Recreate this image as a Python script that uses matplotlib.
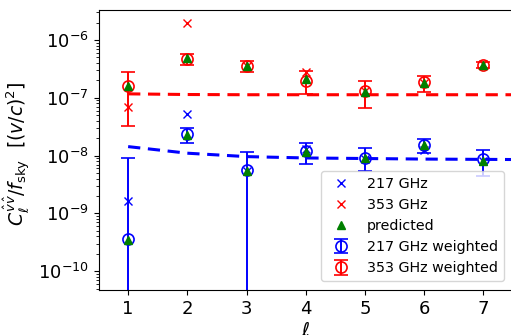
import numpy as np
import matplotlib
matplotlib.use("Agg")
import matplotlib.pyplot as plt

ell = [1, 2, 3, 4, 5, 6, 7]

# raw cross-spectra per frequency
c217 = [1.67e-9, 5.3e-8, 5.5e-9, 1.3e-8, 8.8e-9, 1.25e-8, 8.0e-9]
c353 = [7.0e-8, 2.0e-6, 3.5e-7, 2.75e-7, 1.3e-7, 1.8e-7, 3.8e-7]

# predicted signal
pred217 = [3.4e-10, 2.3e-8, 5.4e-9, 1.15e-8, 9.0e-9, 1.5e-8, 8.2e-9]
pred353 = [1.6e-7, 4.8e-7, 3.5e-7, 2.1e-7, 1.25e-7, 1.8e-7, 3.7e-7]

# weighted estimates with asymmetric errors (lower, upper bounds)
w217 = [3.56e-10, 2.38e-8, 5.7e-9, 1.2e-8, 9.0e-9, 1.53e-8, 8.6e-9]
w217_lo = [0.0, 1.68e-8, 0.0, 7.1e-9, 5.5e-9, 1.1e-8, 4.5e-9]
w217_hi = [9.2e-9, 3.06e-8, 1.16e-8, 1.66e-8, 1.35e-8, 1.93e-8, 1.24e-8]

w353 = [1.57e-7, 4.7e-7, 3.6e-7, 1.92e-7, 1.32e-7, 1.84e-7, 3.7e-7]
w353_lo = [3.3e-8, 3.7e-7, 2.8e-7, 1.17e-7, 6.6e-8, 1.25e-7, 3.3e-7]
w353_hi = [2.75e-7, 5.7e-7, 4.4e-7, 2.94e-7, 1.92e-7, 2.4e-7, 4.2e-7]

# noise levels
ell_noise = [1, 2, 3, 4, 5, 6, 7, 8]
noise217 = [1.43e-8, 1.1e-8, 9.6e-9, 9.1e-9, 8.9e-9, 8.7e-9, 8.6e-9, 8.5e-9]
noise353 = [1.17e-7, 1.14e-7, 1.13e-7, 1.13e-7, 1.13e-7, 1.13e-7, 1.13e-7, 1.13e-7]

fig = plt.figure(figsize=(5.11, 3.35), dpi=100)
ax = fig.add_axes([0.1928, 0.134, 0.811, 0.836])

ax.plot(ell_noise, noise217, "--", color="b", lw=2.2, dashes=(4, 2.5))
ax.plot(ell_noise, noise353, "--", color="r", lw=2.2, dashes=(4, 2.5))

ax.plot(ell, c217, "x", color="b", ms=6, mew=1.0, label="217 GHz")
ax.plot(ell, c353, "x", color="r", ms=6, mew=1.0, label="353 GHz")

w217a = np.array(w217)
w353a = np.array(w353)
err217 = [w217a - np.array(w217_lo), np.array(w217_hi) - w217a]
err353 = [w353a - np.array(w353_lo), np.array(w353_hi) - w353a]

ax.errorbar(ell, w217, yerr=err217, fmt="o", color="b", mfc="none",
            ms=8, mew=1.2, capsize=5, elinewidth=1.4, capthick=1.4,
            label="217 GHz weighted", zorder=2)
ax.errorbar(ell, w353, yerr=err353, fmt="o", color="r", mfc="none",
            ms=8, mew=1.2, capsize=5, elinewidth=1.4, capthick=1.4,
            label="353 GHz weighted", zorder=2)

ax.plot(ell, pred217, "^", color="g", ms=6, zorder=3, label="predicted")
ax.plot(ell, pred353, "^", color="g", ms=6, zorder=3)

ax.set_yscale("log")
ax.set_xlim(0.5, 7.5)
ax.set_ylim(4.7e-11, 3.3e-6)
ax.set_xticks(ell)
ax.tick_params(labelsize=13)
ax.set_xlabel(r"$\ell$", fontsize=14, labelpad=2)
ax.set_ylabel(r"$C_\ell^{\hat{v}\hat{v}}/f_{\rm sky}$  $[(v/c)^2]$", fontsize=13.5)
ax.yaxis.set_label_coords(-0.158, 0.486)

handles, labels = ax.get_legend_handles_labels()
order = ["217 GHz", "353 GHz", "predicted", "217 GHz weighted", "353 GHz weighted"]
hmap = dict(zip(labels, handles))
ax.legend([hmap[k] for k in order], order, loc="lower right", fontsize=10.3,
          bbox_to_anchor=(0.985, 0.022), borderaxespad=0.2)

fig.savefig("out.png", dpi=100)
